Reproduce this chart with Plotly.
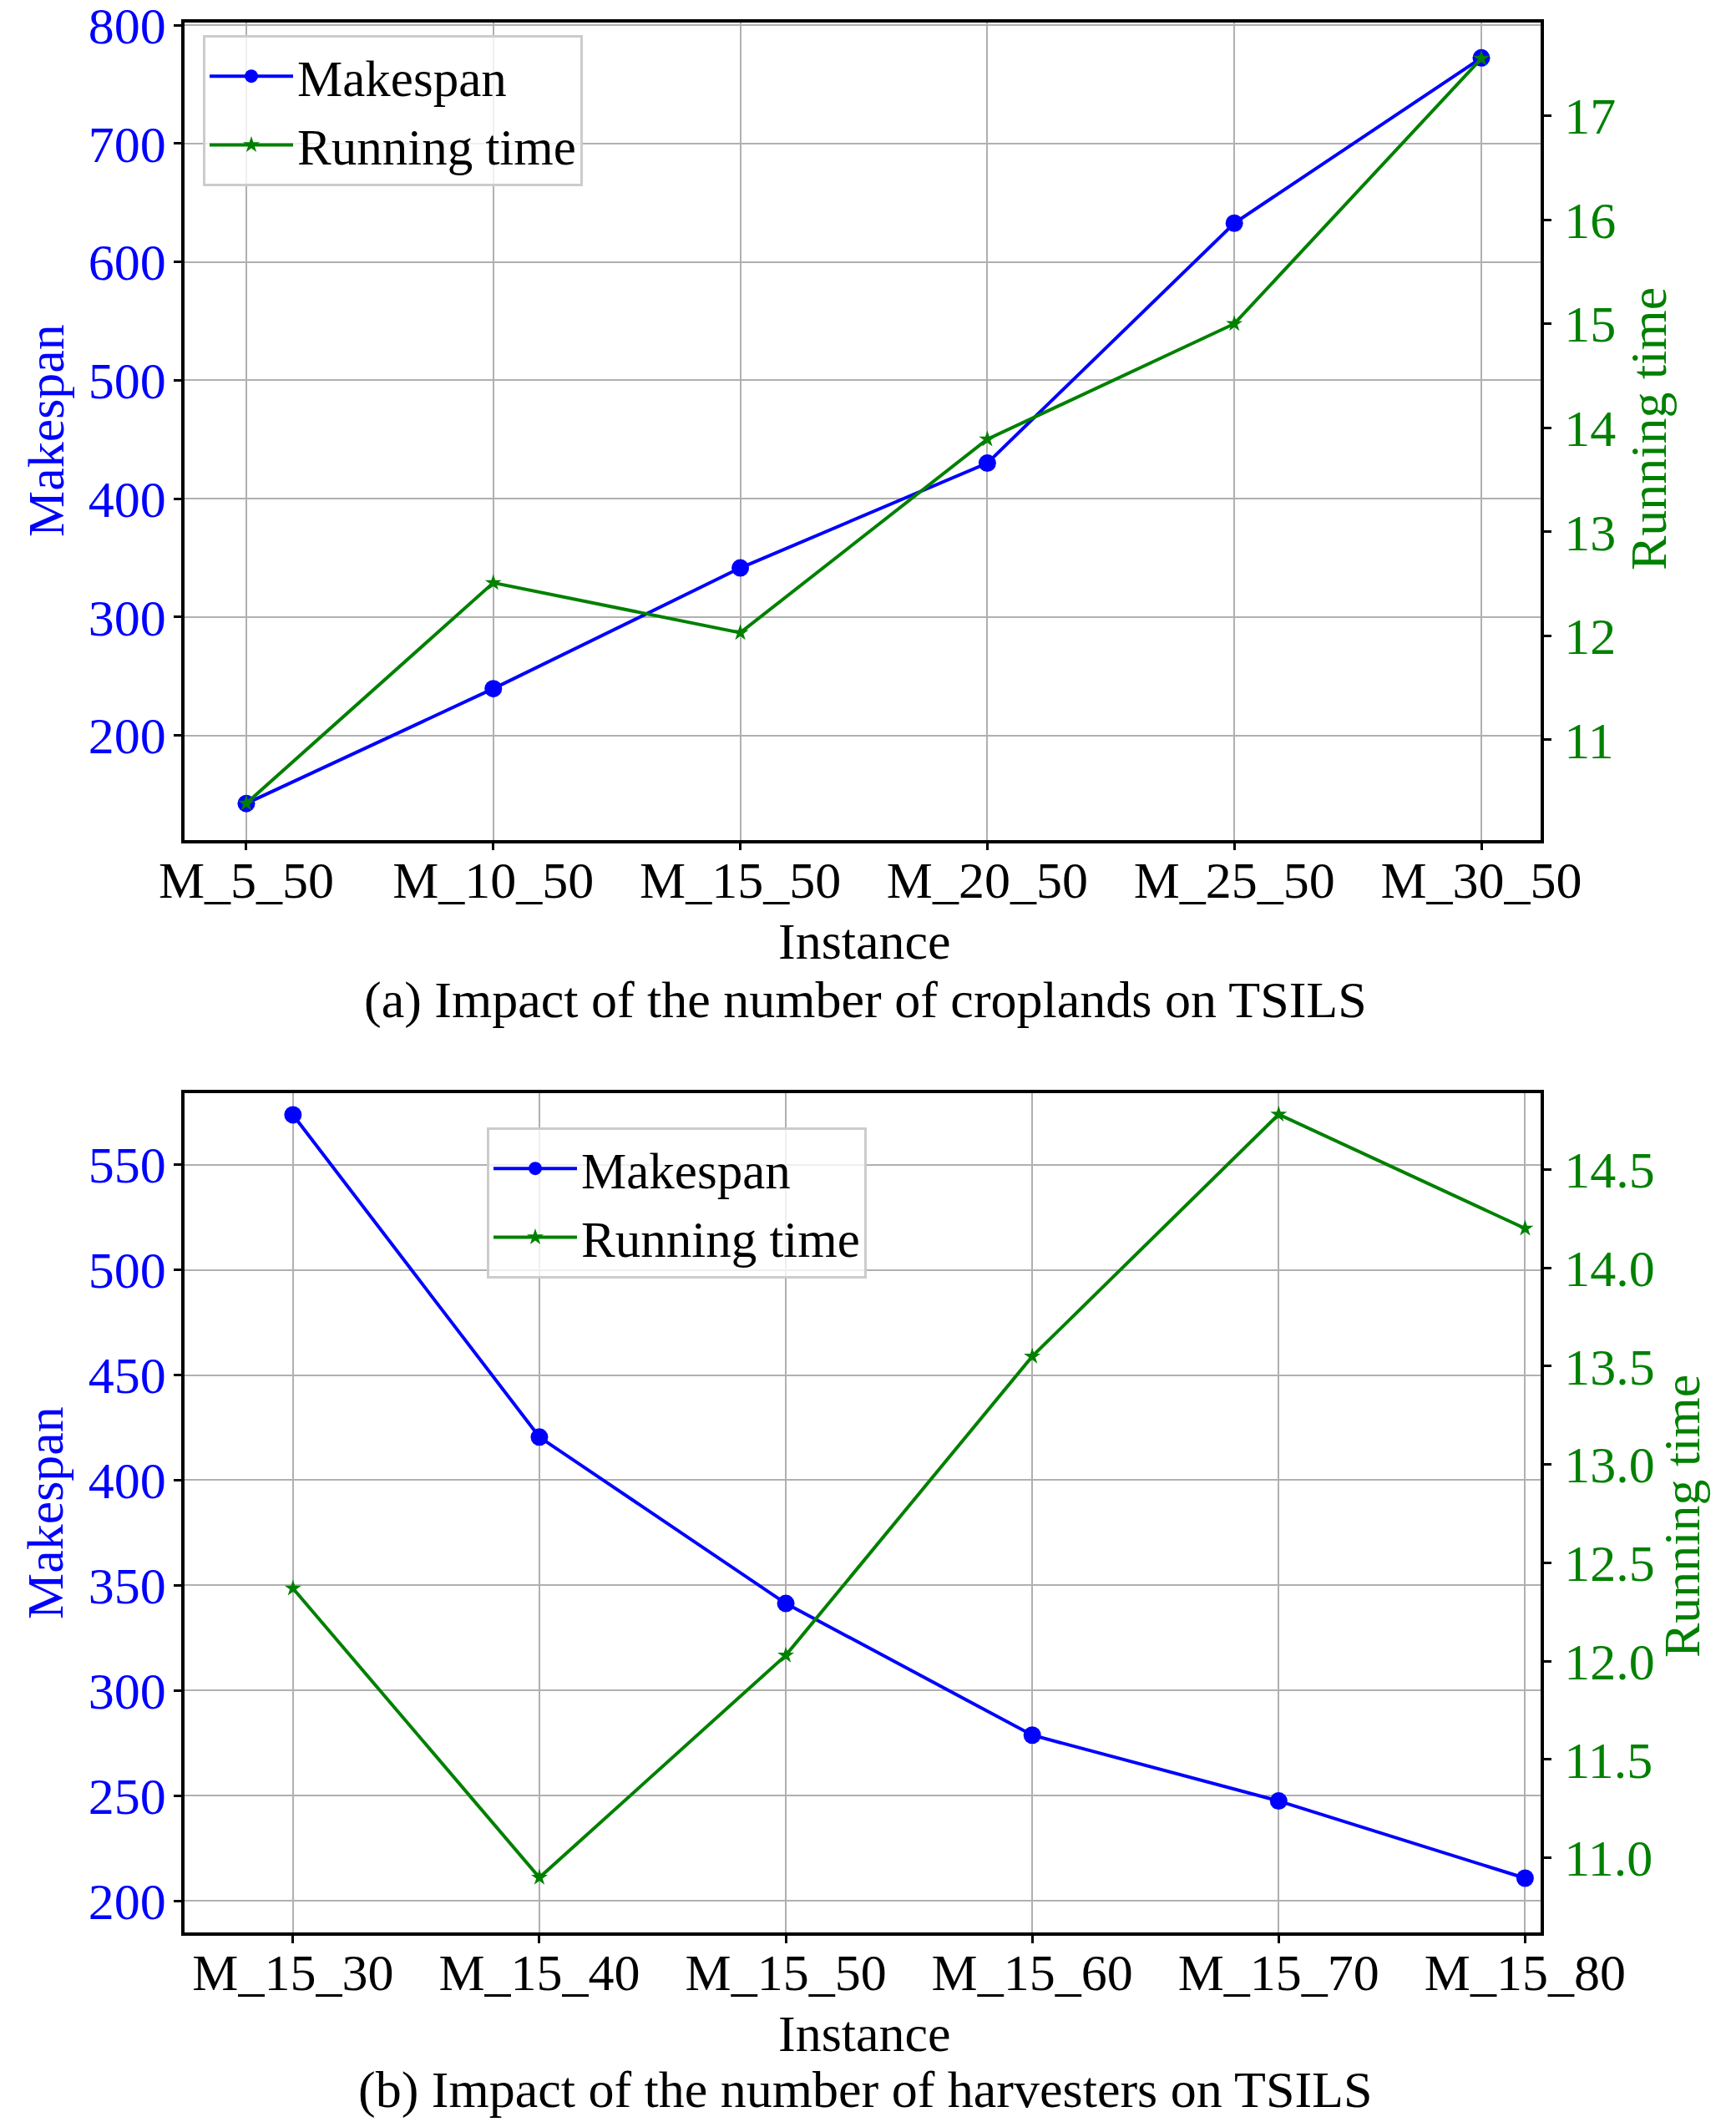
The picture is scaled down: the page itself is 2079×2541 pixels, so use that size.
import plotly.graph_objects as go

# (a) number of croplands
inst_a = ["M_5_50", "M_10_50", "M_15_50", "M_20_50", "M_25_50", "M_30_50"]
makespan_a = [142.5, 239.5, 341.5, 430.0, 632.7, 772.3]
runtime_a = [10.39, 12.51, 12.03, 13.89, 15.00, 17.55]

# (b) number of harvesters
inst_b = ["M_15_30", "M_15_40", "M_15_50", "M_15_60", "M_15_70", "M_15_80"]
makespan_b = [573.7, 420.5, 341.4, 278.8, 247.5, 210.8]
runtime_b = [12.37, 10.90, 12.03, 13.55, 14.78, 14.20]

W, H = 2079, 2541
FONT = "Liberation Serif"
FS = 62
BLUE = "#0000ff"
GREEN = "#008000"
GRID = "#b0b0b0"

fig = go.Figure()

# top panel
fig.add_trace(go.Scatter(x=inst_a, y=makespan_a, name="Makespan", mode="lines+markers",
                         line=dict(color=BLUE, width=4), marker=dict(symbol="circle", size=21, color=BLUE),
                         xaxis="x", yaxis="y", legend="legend"))
fig.add_trace(go.Scatter(x=inst_a, y=runtime_a, name="Running time", mode="lines+markers",
                         line=dict(color=GREEN, width=4), marker=dict(symbol="star", size=15, color=GREEN),
                         xaxis="x", yaxis="y2", legend="legend"))
# bottom panel
fig.add_trace(go.Scatter(x=inst_b, y=makespan_b, name="Makespan", mode="lines+markers",
                         line=dict(color=BLUE, width=4), marker=dict(symbol="circle", size=21, color=BLUE),
                         xaxis="x2", yaxis="y3", legend="legend2"))
fig.add_trace(go.Scatter(x=inst_b, y=runtime_b, name="Running time", mode="lines+markers",
                         line=dict(color=GREEN, width=4), marker=dict(symbol="star", size=15, color=GREEN),
                         xaxis="x2", yaxis="y4", legend="legend2"))

xdom = [221 / W, 1845 / W]
dom_a = [1 - 1005.7 / H, 1 - 26.8 / H]
dom_b = [1 - 2314 / H, 1 - 1309 / H]

def xax(anchor, rng):
    return dict(domain=xdom, anchor=anchor, type="category", range=rng, automargin=False,
                showline=True, mirror=True, linecolor="black", linewidth=3.5,
                ticks="outside", ticklen=9, tickwidth=3, tickcolor="black",
                showgrid=True, gridcolor=GRID, gridwidth=2, zeroline=False,
                ticklabelstandoff=-18, ticklabeloverflow="allow",
                tickfont=dict(family=FONT, size=FS, color="black"))

def yax_left(anchor, dom, rng, dtick):
    return dict(domain=dom, anchor=anchor, range=rng, dtick=dtick, automargin=False,
                showline=True, linecolor="black", linewidth=3.5,
                ticks="outside", ticklen=9, tickwidth=3, tickcolor="black",
                ticklabelstandoff=-3, ticklabeloverflow="allow",
                showgrid=True, gridcolor=GRID, gridwidth=2, zeroline=False,
                tickfont=dict(family=FONT, size=FS, color=BLUE))

def yax_right(anchor, over, rng, dtick, fmt):
    return dict(overlaying=over, anchor=anchor, side="right", range=rng, dtick=dtick,
                tickformat=fmt, automargin=False,
                showline=True, linecolor="black", linewidth=3.5,
                ticks="outside", ticklen=9, tickwidth=3, tickcolor="black",
                ticklabelstandoff=3, ticklabeloverflow="allow",
                showgrid=False, zeroline=False,
                tickfont=dict(family=FONT, size=FS, color=GREEN))

legend_style = dict(bgcolor="rgba(255,255,255,0.8)", bordercolor="#cccccc", borderwidth=3,
                    font=dict(family=FONT, size=61, color="black"),
                    xanchor="left", yanchor="top", tracegroupgap=0, itemwidth=100)

def label(text, x, y, color="black", angle=0):
    return dict(text=text, x=x, y=y, xref="paper", yref="paper", showarrow=False,
                xanchor="center", yanchor="middle", textangle=angle,
                font=dict(family=FONT, size=FS, color=color))

fig.update_layout(
    width=W, height=H, margin=dict(l=0, r=0, t=0, b=0, autoexpand=False),
    paper_bgcolor="white", plot_bgcolor="white",
    xaxis=xax("y", [-0.25, 5.24]),
    yaxis=yax_left("x", dom_a, [111.8, 802.3], 100),
    yaxis2=yax_right("x", "y", [10.039, 17.897], 1, "d"),
    xaxis2=xax("y3", [-0.44, 5.063]),
    yaxis3=yax_left("x2", dom_b, [185.0, 584.0], 50),
    yaxis4=yax_right("x2", "y3", [10.621, 14.888], 0.5, ".1f"),
    legend=dict(x=243 / W, y=1 - 42 / H, **legend_style),
    legend2=dict(x=583 / W, y=1 - 1350 / H, **legend_style),
    annotations=[
        label("Makespan", 55 / W, 1 - 516 / H, BLUE, -90),
        label("Running time", 1974 / W, 1 - 514 / H, GREEN, -90),
        label("Instance", 1035 / W, 1 - 1127 / H),
        label("(a) Impact of the number of croplands on TSILS", 1036 / W, 1 - 1197 / H),
        label("Makespan", 54 / W, 1 - 1812 / H, BLUE, -90),
        label("Running time", 2014 / W, 1 - 1816 / H, GREEN, -90),
        label("Instance", 1035 / W, 1 - 2435 / H),
        label("(b) Impact of the number of harvesters on TSILS", 1036 / W, 1 - 2502 / H),
    ],
)

fig.write_html("out.html", config={"displayModeBar": False},
               post_script="document.body.style.margin='0px';")
